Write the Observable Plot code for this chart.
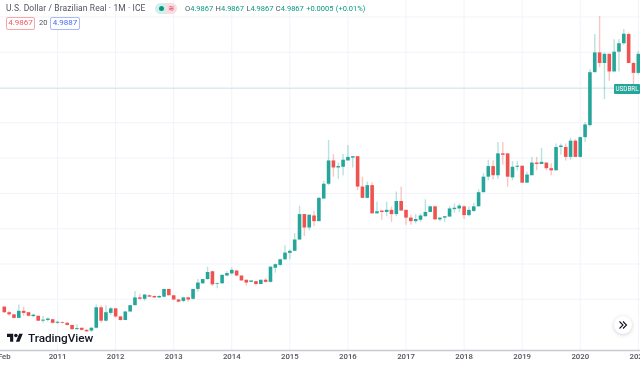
<!DOCTYPE html>
<html>
<head>
<meta charset="utf-8">
<script src="https://cdn.jsdelivr.net/npm/d3@7"></script>
<script src="https://cdn.jsdelivr.net/npm/@observablehq/plot@0.6"></script>
<style>
html,body{margin:0;padding:0;background:#fff;width:640px;height:366px;overflow:hidden;font-family:Roboto,sans-serif}
#wrap{position:relative;width:640px;height:366px;overflow:hidden;filter:blur(.45px)}
#chart svg{display:block}
.a{position:absolute;white-space:nowrap}
.box{position:absolute;top:17px;height:10.5px;border-radius:2px;font-size:8px;line-height:10.5px;text-align:center;background:#fff}
</style>
</head>
<body>
<div id="wrap">
<div id="chart"></div>
<div class="a" style="left:6px;top:2px;font-size:8.5px;line-height:13px;color:#50535e;letter-spacing:.1px">U.S. Dollar / Brazilian Real · 1M · ICE</div>
<div class="a" style="left:155px;top:3px;width:11px;height:11px;background:#d3eeeb;border-radius:6px 0 0 6px"></div>
<div class="a" style="left:166px;top:3px;width:11px;height:11px;background:#fbdde0;border-radius:0 6px 6px 0"></div>
<div class="a" style="left:158.5px;top:6px;width:5px;height:5px;background:#089981;border-radius:50%"></div>
<div class="a" style="left:167.5px;top:2px;font-size:8px;line-height:13px;color:#e0456e">≋</div>
<div class="a" style="left:185px;top:2px;font-size:7.5px;line-height:13px;color:#089981;word-spacing:.5px"><span style="color:#50535e">O</span>4.9867 <span style="color:#50535e">H</span>4.9867 <span style="color:#50535e">L</span>4.9867 <span style="color:#50535e">C</span>4.9867 +0.0005 (+0.01%)</div>
<div class="box" style="left:6px;width:27px;border:1px solid #f7a6ab;color:#f0575f">4.9867</div>
<div class="a" style="left:39px;top:16px;font-size:7.5px;line-height:13px;color:#50535e">20</div>
<div class="box" style="left:50px;width:28px;border:1px solid #a9b9fb;color:#4a68f0">4.9887</div>
<div class="a" style="left:614px;top:84px;width:26px;height:10px;background:#26a69a;border-radius:1px;color:#fff;font-size:6.3px;line-height:10px;text-align:center">USDBRL</div>
<svg class="a" style="left:7px;top:332px" width="16" height="12.5" viewBox="0 0 36 28"><path fill="#131722" d="M14 22H7V11H0V4h14v18zM28 22h-8l7.5-18h8L28 22z"/><circle fill="#131722" cx="20" cy="8" r="4"/></svg>
<div class="a" style="left:28px;top:330px;font-family:Roboto,sans-serif;font-size:11.8px;line-height:17px;font-weight:500;color:#131722;letter-spacing:-.05px">TradingView</div>
<div class="a" style="left:614px;top:316px;width:18px;height:18px;border-radius:50%;background:#fff;box-shadow:0 1px 4px rgba(0,0,0,.18)"></div>
<svg class="a" style="left:618px;top:320px" width="10" height="10" viewBox="0 0 10 10"><path fill="none" stroke="#131722" stroke-width="1.1" d="M1.5 1.5 5 5 1.5 8.5M5 1.5 8.5 5 5 8.5"/></svg>
</div>
<script>
const opens = [1.89,1.81,1.78,1.73,1.83,1.81,1.755,1.76,1.69,1.70,1.71,
1.66,1.67,1.66,1.63,1.57,1.59,1.56,1.55,1.59,1.88,1.69,1.80,
1.865,1.75,1.70,1.82,1.91,2.02,2.00,2.05,2.04,2.02,2.03,2.14,
2.05,1.99,1.97,2.02,2.00,2.14,2.22,2.28,2.39,2.21,2.22,2.33,
2.36,2.40,2.33,2.27,2.24,2.25,2.21,2.27,2.24,2.44,2.48,2.56,
2.65,2.68,2.84,3.20,3.01,3.18,3.10,3.42,3.63,3.96,3.86,3.87,
3.96,4.00,4.02,3.59,3.43,3.61,3.21,3.25,3.23,3.26,3.20,3.385,
3.26,3.15,3.10,3.12,3.17,3.23,3.31,3.125,3.15,3.165,3.27,3.28,
3.31,3.185,3.245,3.31,3.51,3.73,3.88,3.75,4.06,4.06,3.72,3.87,
3.885,3.645,3.75,3.93,3.91,3.93,3.85,3.82,4.15,4.15,4.01,4.24,
4.01,4.29,4.46,5.21,5.49,5.34,5.47,5.22,5.50,5.62,5.75,5.34,5.20];
const closes = [1.81,1.78,1.73,1.83,1.80,1.76,1.775,1.69,1.705,1.72,1.66,
1.675,1.66,1.63,1.57,1.585,1.56,1.54,1.59,1.88,1.69,1.81,1.865,
1.75,1.70,1.82,1.91,2.02,2.00,2.06,2.03,2.02,2.04,2.14,2.05,
1.99,1.96,2.02,1.99,2.14,2.23,2.28,2.38,2.205,2.22,2.34,2.365,
2.41,2.33,2.26,2.23,2.26,2.21,2.27,2.24,2.455,2.49,2.56,2.655,
2.68,2.84,3.20,3.01,3.19,3.10,3.43,3.63,3.96,3.86,3.88,3.97,
4.01,4.02,3.59,3.43,3.61,3.21,3.24,3.23,3.26,3.20,3.385,3.25,
3.15,3.10,3.13,3.18,3.23,3.31,3.125,3.15,3.17,3.28,3.29,3.32,
3.185,3.26,3.31,3.51,3.73,3.88,3.75,4.06,4.04,3.73,3.87,3.885,
3.645,3.76,3.93,3.91,3.94,3.85,3.82,4.15,4.17,4.01,4.24,4.01,
4.29,4.47,5.21,5.49,5.34,5.47,5.22,5.50,5.62,5.755,5.34,5.20,5.47];
const highs = [1.89,1.83,1.78,1.92,1.89,1.81,1.79,1.76,1.755,1.74,1.72,
1.69,1.68,1.67,1.63,1.64,1.59,1.57,1.60,1.92,1.91,1.91,1.88,
1.87,1.76,1.83,1.91,2.11,2.07,2.07,2.06,2.05,2.05,2.14,2.14,
2.05,2.00,2.03,2.03,2.14,2.28,2.28,2.455,2.40,2.23,2.34,2.39,
2.445,2.41,2.33,2.27,2.26,2.25,2.27,2.29,2.46,2.50,2.57,2.76,
2.70,2.93,3.32,3.20,3.20,3.24,3.44,3.67,4.25,4.05,3.93,4.05,
4.18,4.02,4.02,3.73,3.66,3.65,3.375,3.25,3.375,3.305,3.52,3.59,
3.26,3.19,3.20,3.21,3.41,3.32,3.32,3.15,3.17,3.31,3.35,3.35,
3.32,3.31,3.36,3.55,3.78,3.97,3.96,4.22,4.22,4.06,3.95,3.95,
3.885,3.80,4.01,4.01,4.136,3.93,3.92,4.20,4.20,4.20,4.28,4.26,
4.30,4.50,5.25,5.75,6.005,5.49,5.47,5.675,5.675,5.82,5.77,5.36,5.51];
const lows = [1.80,1.76,1.72,1.72,1.76,1.75,1.74,1.69,1.66,1.68,1.65,
1.64,1.65,1.62,1.56,1.56,1.55,1.53,1.53,1.58,1.66,1.68,1.77,
1.73,1.69,1.70,1.82,1.91,1.99,1.97,2.03,2.01,2.01,2.02,2.05,
1.98,1.95,1.95,1.96,1.99,2.10,2.21,2.27,2.18,2.15,2.21,2.32,
2.34,2.32,2.26,2.19,2.24,2.19,2.21,2.23,2.23,2.37,2.46,2.55,
2.56,2.68,2.83,2.89,2.97,3.03,3.10,3.42,3.61,3.73,3.70,3.75,
3.96,3.86,3.54,3.43,3.42,3.21,3.21,3.12,3.17,3.09,3.17,3.25,
3.05,3.05,3.07,3.09,3.16,3.23,3.12,3.10,3.09,3.16,3.22,3.23,
3.13,3.17,3.23,3.31,3.51,3.68,3.69,3.70,3.90,3.59,3.68,3.82,
3.645,3.645,3.75,3.82,3.91,3.82,3.75,3.82,4.04,3.96,3.97,4.01,
4.00,4.22,4.44,5.21,5.28,4.83,5.09,5.22,5.22,5.60,5.34,5.03,5.18];
const tickPositions = [0,11,23,35,47,59,71,83,95,107,119,131];
const tickLabels = ["Feb","2011","2012","2013","2014","2015","2016","2017","2018","2019","2020","2021"];
const priceLevels = [2,2.5,3,3.5,4,4.5,5,5.5,6];
const lastPrice = [4.9867];
const upColor = "#26a69a", downColor = "#ef5350", gridColor = "#f0f3f9";

const bars = opens.map((o,i)=>({i,o,c:closes[i],h:highs[i],l:lows[i],col:closes[i]>=o?upColor:downColor}));

const chart = Plot.plot({
  width:640,height:366,marginTop:0,marginLeft:0,marginRight:0,marginBottom:16,
  style:{background:"#fff",fontFamily:"Roboto,sans-serif"},
  x:{domain:[-0.785,131.45],axis:null},
  y:{domain:[1.2748,6.2323],axis:null},
  marks:[
    Plot.gridX(tickPositions.slice(1),{stroke:gridColor,strokeOpacity:1}),
    Plot.gridY(priceLevels,{stroke:gridColor,strokeOpacity:1}),
    Plot.ruleY(lastPrice,{stroke:"#26a69a",strokeOpacity:.2}),
    Plot.ruleX(bars,{x:"i",y1:"l",y2:"h",stroke:"col",strokeOpacity:.33,strokeWidth:1.4}),
    Plot.ruleX(bars,{x:"i",y1:"o",y2:"c",stroke:"col",strokeWidth:3.6}),
    Plot.frame({anchor:"bottom",stroke:"#c8cad0",strokeWidth:1.6}),
    Plot.frame({anchor:"right",stroke:"#b4b6bc",strokeWidth:1}),
    Plot.axisX(tickPositions,{anchor:"bottom",label:null,tickSize:0,tickPadding:3,
      tickFormat:d=>tickLabels[tickPositions.indexOf(d)],
      fontSize:7.8,fontWeight:500,fill:"#50535e"})
  ]
});
document.getElementById("chart").appendChild(chart);
</script>
</body>
</html>
